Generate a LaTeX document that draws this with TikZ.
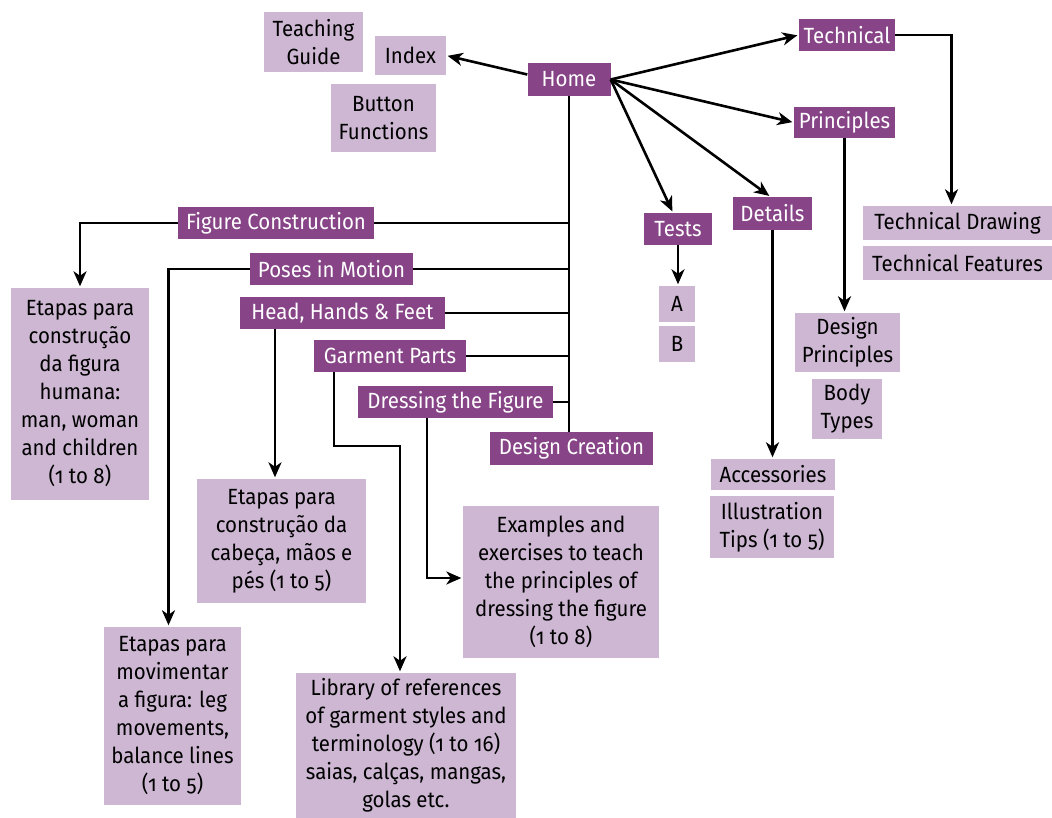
\documentclass[tikz,border=0pt]{standalone}
\usepackage{fontspec}
\setmainfont{Fira Sans}[RawFeature={+onum}, FakeStretch=0.93]
\usetikzlibrary{arrows.meta}
\definecolor{dk}{HTML}{874487}
\definecolor{lt}{HTML}{CDB7D3}
\begin{document}
\begin{tikzpicture}[x=1pt,y=-1pt,
  base/.style={inner sep=0pt, align=center, font=\fontsize{22}{28}\selectfont},
  dkbox/.style={base, fill=dk, text=white},
  ltbox/.style={base, fill=lt, text=black},
  wire/.style={line width=2.6pt},
  arr/.style={wire, -{Stealth[length=15pt,width=13pt,inset=4.5pt]}, shorten >=1.5pt}]
\useasboundingbox (0,0) rectangle (1052,818);
% dark boxes
\node[dkbox, minimum width=83, minimum height=33] (home) at (569,79.5) {Home};
\node[dkbox, minimum width=96, minimum height=32] (technical) at (847,35) {Technical};
\node[dkbox, minimum width=101, minimum height=31] (principles) at (844.5,122.5) {Principles};
\node[dkbox, minimum width=68, minimum height=32] (tests) at (678,229) {Tests};
\node[dkbox, minimum width=79, minimum height=33] (details) at (772.5,213.5) {Details};
\node[dkbox, minimum width=196, minimum height=32] (figc) at (276,223) {Figure Construction};
\node[dkbox, minimum width=163, minimum height=32] (poses) at (331.5,269) {Poses in Motion};
\node[dkbox, minimum width=205, minimum height=32] (head) at (342.5,313) {Head, Hands \& Feet};
\node[dkbox, minimum width=152, minimum height=32] (garm) at (390,356) {Garment Parts};
\node[dkbox, minimum width=195, minimum height=32] (dress) at (455.5,402) {Dressing the Figure};
\node[dkbox, minimum width=163, minimum height=33] (dcre) at (571.5,448.5) {Design Creation};
% light boxes
\node[ltbox, minimum width=71, minimum height=39] (index) at (410.5,55.5) {Index};
\node[ltbox, minimum width=99, minimum height=60] (teach) at (313.5,42) {Teaching\\Guide};
\node[ltbox, minimum width=105, minimum height=68] (button) at (383.5,118) {Button\\Functions};
\node[ltbox, minimum width=189, minimum height=34] (tdraw) at (957.5,223) {Technical Drawing};
\node[ltbox, minimum width=189, minimum height=34] (tfeat) at (957.5,263) {Technical Features};
\node[ltbox, minimum width=36, minimum height=36] (A) at (677,304) {A};
\node[ltbox, minimum width=36, minimum height=36] (B) at (677,344) {B};
\node[ltbox, minimum width=105, minimum height=59] (dprin) at (847.5,342.5) {Design\\Principles};
\node[ltbox, minimum width=70, minimum height=60] (body) at (847,409) {Body\\Types};
\node[ltbox, minimum width=124, minimum height=31] (acc) at (773,474.5) {Accessories};
\node[ltbox, minimum width=124, minimum height=62] (illus) at (772,527) {Illustration\\Tips (1 to 5)};
\node[ltbox, minimum width=138, minimum height=212] (eh) at (80,394) {Etapas para\\construção\\da figura\\humana:\\man, woman\\and children\\(1 to 8)};
\node[ltbox, minimum width=169, minimum height=124] (ec) at (281.5,541) {Etapas para\\construção da\\cabeça, mãos e\\pés (1 to 5)};
\node[ltbox, minimum width=137, minimum height=178] (em) at (172.5,716) {Etapas para\\movimentar\\a figura: leg\\movements,\\balance lines\\(1 to 5)};
\node[ltbox, minimum width=196, minimum height=152] (ex) at (561,582) {Examples and\\exercises to teach\\the principles of\\dressing the figure\\(1 to 8)};
\node[ltbox, minimum width=220, minimum height=145] (lib) at (406,745.5) {Library of references\\of garment styles and\\terminology (1 to 16)\\saias, calças, mangas,\\golas etc.};
% connectors from Home
\draw[arr] ([yshift=5pt]home.west) -- (index.east);
\draw[arr] (home.east) -- (technical.west);
\draw[arr] (home.east) -- (principles.west);
\draw[arr] (home.east) -- ([xshift=-5pt]tests.north);
\draw[arr] (home.east) -- ([xshift=-2pt]details.north);
\draw[wire] (home.south) -- (home.south |- dcre.north);
\foreach \n in {figc,poses,head,garm,dress}
  \draw[wire] (\n.east) -- (\n.east -| home.south);
% other connectors
\draw[arr] (technical.east) -| ([xshift=-6pt]tdraw.north);
\draw[arr] (principles.south) -- (principles.south |- dprin.north);
\draw[arr] (details.south) -- (details.south |- acc.north);
\draw[arr] (tests.south) -- (tests.south |- A.north);
\draw[arr] (figc.west) -| (eh.north);
\draw[arr] (poses.west) -| ([xshift=-4pt]em.north);
\coordinate (h1) at (275,329);
\draw[arr] (h1) -- (h1 |- ec.north);
\coordinate (g1) at (334,372);
\coordinate (g2) at (400,446);
\draw[arr] (g1) |- (g2) -- (g2 |- lib.north);
\coordinate (d1) at (427,418);
\draw[arr] (d1) |- ([yshift=4pt]ex.west);
\end{tikzpicture}
\end{document}
